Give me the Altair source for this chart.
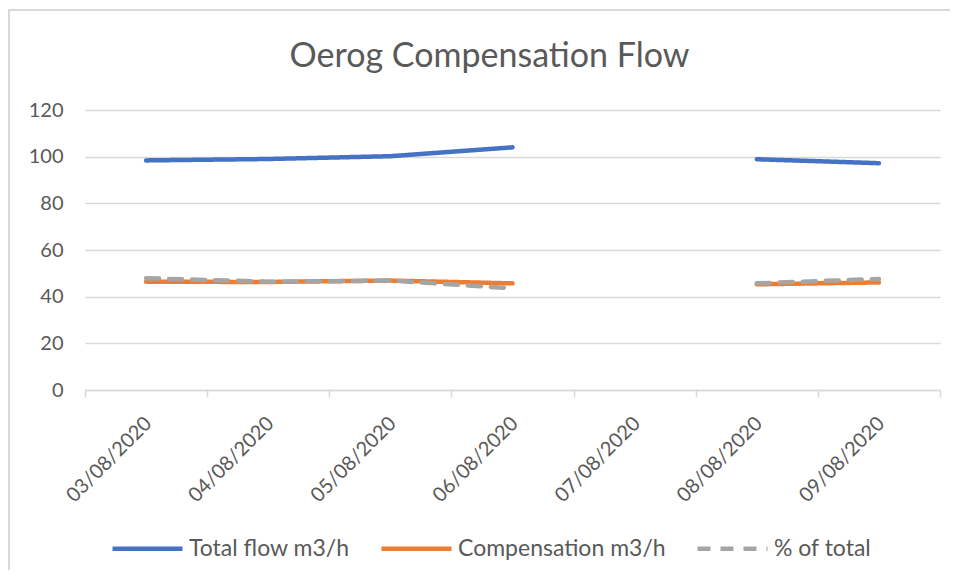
import altair as alt
import pandas as pd

dates = ["03/08/2020", "04/08/2020", "05/08/2020", "06/08/2020",
         "07/08/2020", "08/08/2020", "09/08/2020"]
total_flow = [98.4, 99.0, 100.2, 104.0, None, 98.9, 97.2]
compensation = [46.4, 46.3, 46.9, 45.7, None, 45.3, 46.1]
pct_of_total = [47.9, 46.4, 46.9, 43.6, None, 45.7, 47.6]

series_names = ["Total flow m3/h", "Compensation m3/h", "% of total"]
series_colors = ["#4472C4", "#ED7D31", "#A5A5A5"]
series_dashes = [[1, 0], [1, 0], [13, 10]]

rows = []
for name, vals in zip(series_names, [total_flow, compensation, pct_of_total]):
    for d, v in zip(dates, vals):
        rows.append({"date": d, "series": name, "value": v})
df = pd.DataFrame(rows)

FONT = "Lato"
TXT = "#595959"
GRID = "#d9d9d9"


def make_legend():
    return alt.Legend(title=None, orient="none", direction="horizontal",
                      legendX=25, legendY=401,
                      symbolType="stroke", symbolSize=4900,
                      symbolStrokeWidth=4.5, labelFont=FONT,
                      labelFontSize=23, labelColor=TXT, labelLimit=400,
                      columnPadding=22, labelOffset=4)


lines = alt.Chart(df).mark_line(
    strokeWidth=4.5, strokeCap="round", strokeJoin="round",
    invalid="break-paths-show-domains"
).encode(
    x=alt.X("date:O", sort=dates, bandPosition=0.5,
            scale=alt.Scale(type="band", domain=dates, paddingInner=0, paddingOuter=0),
            axis=alt.Axis(title=None, tickBand="extent", labelAngle=-45,
                          labelAlign="right", labelBaseline="middle",
                          labelOffset=2, labelPadding=23,
                          labelFont=FONT, labelFontSize=20, labelColor=TXT,
                          domainColor=GRID, domainWidth=1.5, tickColor=GRID,
                          tickWidth=1.5, tickSize=7, grid=False)),
    y=alt.Y("value:Q",
            scale=alt.Scale(domain=[0, 120], nice=False, zero=True),
            axis=alt.Axis(title=None, values=[0, 20, 40, 60, 80, 100, 120],
                          labelFont=FONT, labelFontSize=20, labelColor=TXT,
                          domain=False, ticks=False, gridColor=GRID, gridWidth=1.5,
                          labelPadding=22)),
    color=alt.Color("series:N", sort=series_names,
                    scale=alt.Scale(domain=series_names, range=series_colors),
                    legend=make_legend()),
    strokeDash=alt.StrokeDash("series:N", sort=series_names,
                              scale=alt.Scale(domain=series_names, range=series_dashes),
                              legend=make_legend()),
    detail="series:N",
)

frame = alt.Chart(pd.DataFrame({"a": [0]})).mark_rect(
    filled=False, stroke="#d9d9d9", strokeWidth=2
).encode(
    x=alt.value(-76), x2=alt.value(900), y=alt.value(-100), y2=alt.value(500)
)

chart = alt.layer(frame, lines).properties(
    width=855, height=280,
    autosize="none",
    padding={"left": 77, "top": 102, "right": 10, "bottom": 180},
    title=alt.TitleParams("Oerog Compensation Flow", font=FONT, fontSize=34,
                          fontWeight="normal", color=TXT, anchor="middle",
                          baseline="alphabetic", dx=-23, offset=-92),
).configure_view(stroke=None)

chart.save("out.html", embed_options={"renderer": "svg", "actions": False})
